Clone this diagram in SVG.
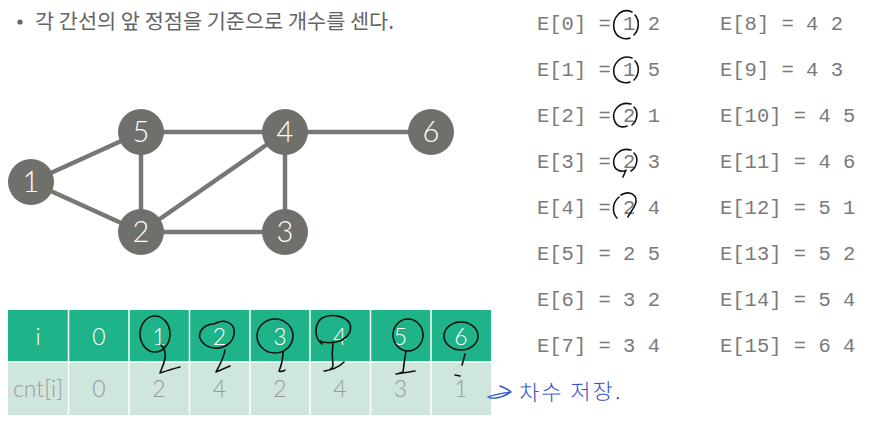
<svg xmlns="http://www.w3.org/2000/svg" width="877" height="421" viewBox="0 0 877 421">
<style>
.edge{stroke:#777874;stroke-width:4.5;fill:none}
.node circle{fill:#6f706b}
.nlabel{font-family:Lato,"Noto Sans",sans-serif;font-weight:300;font-size:29px;fill:#ffffff;text-anchor:middle}
.code{font-family:"Liberation Mono","DejaVu Sans Mono",monospace;font-size:20.5px;fill:#7a7a7a}
.hdr{fill:#1fb389}
.row{fill:#cfe6dc}
.cell{stroke:#ffffff;stroke-width:1.5}
.th{font-family:Lato,"Noto Sans",sans-serif;font-weight:300;font-size:23px;fill:#ffffff;text-anchor:middle}
.td{font-family:Lato,"Noto Sans",sans-serif;font-weight:300;font-size:23px;fill:#9a9a9a;text-anchor:middle}
.ink{fill:none;stroke:#111;stroke-width:1.6;stroke-linecap:round;stroke-linejoin:round}
.blue{fill:none;stroke:#2f54c8;stroke-width:1.4;stroke-linecap:round;stroke-linejoin:round}
</style>
<rect width="877" height="421" fill="#ffffff"/>

<!-- title -->
<circle cx="20" cy="22" r="2.6" fill="#666"/>
<text x="35" y="29" font-family="'Noto Sans CJK KR','Noto Sans',sans-serif" font-size="20.8" fill="#646464">각 간선의 앞 정점을 기준으로 개수를 센다.</text>

<!-- graph edges -->
<g id="edges">
<line class="edge" x1="31" y1="182" x2="141" y2="132"/>
<line class="edge" x1="31" y1="182" x2="141" y2="232"/>
<line class="edge" x1="141" y1="132" x2="285" y2="132"/>
<line class="edge" x1="141" y1="132" x2="141" y2="232"/>
<line class="edge" x1="141" y1="232" x2="285" y2="132"/>
<line class="edge" x1="141" y1="232" x2="285" y2="232"/>
<line class="edge" x1="285" y1="132" x2="285" y2="232"/>
<line class="edge" x1="285" y1="132" x2="431" y2="132"/>
</g>

<g id="node1" class="node"><circle cx="31" cy="182" r="23"/><text class="nlabel" x="31" y="192">1</text></g>
<g id="node5" class="node"><circle cx="141" cy="132" r="23"/><text class="nlabel" x="141" y="142">5</text></g>
<g id="node4" class="node"><circle cx="285" cy="132" r="23"/><text class="nlabel" x="285" y="142">4</text></g>
<g id="node6" class="node"><circle cx="431" cy="132" r="23"/><text class="nlabel" x="431" y="142">6</text></g>
<g id="node2" class="node"><circle cx="141" cy="232" r="23"/><text class="nlabel" x="141" y="242">2</text></g>
<g id="node3" class="node"><circle cx="285" cy="232" r="23"/><text class="nlabel" x="285" y="242">3</text></g>

<!-- table -->
<g id="table">
<rect class="hdr" x="8" y="310" width="483" height="52"/>
<rect class="row" x="8" y="362" width="483" height="53"/>
<g class="cell">
<line x1="8" y1="362" x2="491" y2="362"/>
<line x1="68.5" y1="310" x2="68.5" y2="415"/>
<line x1="129" y1="310" x2="129" y2="415"/>
<line x1="189.5" y1="310" x2="189.5" y2="415"/>
<line x1="250" y1="310" x2="250" y2="415"/>
<line x1="310" y1="310" x2="310" y2="415"/>
<line x1="370.5" y1="310" x2="370.5" y2="415"/>
<line x1="431" y1="310" x2="431" y2="415"/>
</g>
<text class="th" x="38" y="345">i</text>
<text class="th" x="99" y="345">0</text>
<text class="th" x="159" y="345">1</text>
<text class="th" x="219.5" y="345">2</text>
<text class="th" x="280" y="345">3</text>
<text class="th" x="340" y="345">4</text>
<text class="th" x="400.5" y="345">5</text>
<text class="th" x="461" y="345">6</text>
<text class="td" x="38" y="397" font-size="21">cnt[i]</text>
<text class="td" x="99" y="397">0</text>
<text class="td" x="159" y="397">2</text>
<text class="td" x="219.5" y="397">4</text>
<text class="td" x="280" y="397">2</text>
<text class="td" x="340" y="397">4</text>
<text class="td" x="400.5" y="397">3</text>
<text class="td" x="461" y="397">1</text>
</g>

<!-- edge list -->
<g id="elist" class="code">
<text x="537" y="29.5">E[0] = 1 2</text>
<text x="537" y="75.5">E[1] = 1 5</text>
<text x="537" y="121.5">E[2] = 2 1</text>
<text x="537" y="167.5">E[3] = 2 3</text>
<text x="537" y="213.5">E[4] = 2 4</text>
<text x="537" y="259.5">E[5] = 2 5</text>
<text x="537" y="305.5">E[6] = 3 2</text>
<text x="537" y="351.5">E[7] = 3 4</text>
<text x="720" y="29.5">E[8] = 4 2</text>
<text x="720" y="75.5">E[9] = 4 3</text>
<text x="720" y="121.5">E[10] = 4 5</text>
<text x="720" y="167.5">E[11] = 4 6</text>
<text x="720" y="213.5">E[12] = 5 1</text>
<text x="720" y="259.5">E[13] = 5 2</text>
<text x="720" y="305.5">E[14] = 5 4</text>
<text x="720" y="351.5">E[15] = 6 4</text>
</g>

<!-- handwritten annotations -->
<g id="handwriting">
<path class="ink" d="M632,12 C621,7 612,18 614,29 C616,38 625,40 630,38 M635,15 C640,21 639,30 634,35"/>
<path class="ink" d="M632,58 C621,54 612,64 614,74 C616,82 625,84 630,82 M635,61 C640,66 639,75 634,80"/>
<path class="ink" d="M631,104 C620,101 612,110 614,119 C616,127 622,128 627,126 M634,107 C639,112 637,121 632,125"/>
<path class="ink" d="M631,150 C620,147 612,156 614,165 C616,172 624,172 626,170 L623,177 M634,153 C639,158 637,167 631,171"/>
<path class="ink" d="M619,197 C612,203 612,213 617,218 M621,195 C630,190 639,195 635,205 C633,210 629,214 628,217"/>

<ellipse class="ink" cx="155" cy="334" rx="15" ry="18"/>
<path class="ink" d="M161,345 C165,348 166,352 165,360 M165,358 C164,364 162,368 160,373 C166,371 172,369 180,367"/>
<path class="ink" d="M214,324 C224,318 236,323 234,334 C233,343 224,349 214,348 C205,347 198,340 200,333 C202,327 208,324 214,324 Z"/>
<path class="ink" d="M225,350 C224,357 221,363 216,372 C221,370 225,368 230,366"/>
<ellipse class="ink" cx="275" cy="336" rx="18" ry="17"/>
<path class="ink" d="M283,352 C283,358 282,364 279,371 C281,372 284,371 285,370"/>
<path class="ink" d="M322,344 C314,338 314,324 322,318 C332,313 346,316 350,324 C353,333 345,340 336,342 C330,343 324,343 320,341"/>
<path class="ink" d="M333,342 C332,350 332,358 333,366 C331,370 326,371 324,371 C332,370 340,366 344,362"/>
<ellipse class="ink" cx="408" cy="335" rx="15" ry="16"/>
<path class="ink" d="M406,351 C405,357 404,363 403,372 C400,373 398,374 396,374 C403,373 410,372 415,371"/>
<ellipse class="ink" cx="461" cy="336" rx="17" ry="14"/>
<path class="ink" d="M465,354 C464,358 463,362 462,365 M455,375 L460,376"/>

<path class="blue" d="M488,397 C495,394 504,393 511,392 M500,386 C505,388 509,390 511,392 C506,395 500,399 490,398"/>
<text x="519" y="400" font-family="'Noto Sans CJK KR',sans-serif" font-weight="300" font-size="22" fill="#2f54c8" letter-spacing="2" transform="rotate(-1 570 390)">차수 저장.</text>
</g>
</svg>
